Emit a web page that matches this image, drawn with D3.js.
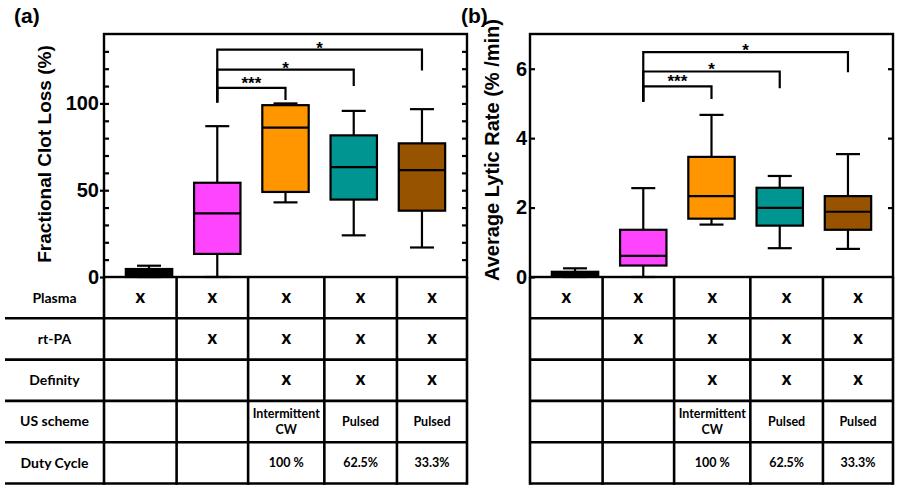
<!DOCTYPE html>
<html><head><meta charset="utf-8">
<script src="https://cdn.jsdelivr.net/npm/d3@7"></script>
<style>
body{margin:0;background:#fff;}
svg{display:block;}
</style></head>
<body><svg id="chart" width="898" height="489"></svg>
<script>
// ---------- DATA ----------
const groups = ["Plasma", "rt-PA", "rt-PA + Definity + IC", "rt-PA + Definity + Pulsed 62.5%", "rt-PA + Definity + Pulsed 33.3%"];
const groupColors = ["#000000", "#ff44ff", "#ff9600", "#009591", "#975300"];

// Fractional Clot Loss (%)
const lossMin = [0, 0, 43, 24, 17];
const lossQ1  = [0, 13.3, 49, 44.6, 38.2];
const lossMed = [1.5, 36.7, 86.1, 63.3, 61.6];
const lossQ3  = [4.6, 54.3, 99, 81.6, 77];
const lossMax = [6.5, 86.9, 100, 95.7, 96.7];
const lossTicks = [0, 50, 100];

// Average Lytic Rate (%/min)
const rateMin = [0, 0, 1.51, 0.83, 0.81];
const rateQ1  = [0.01, 0.33, 1.68, 1.48, 1.36];
const rateMed = [0.07, 0.61, 2.33, 1.99, 1.88];
const rateQ3  = [0.15, 1.36, 3.46, 2.57, 2.33];
const rateMax = [0.25, 2.56, 4.67, 2.91, 3.54];
const rateTicks = [0, 2, 4, 6];

// significance brackets (from group 1 to groups 2,3,4)
const sigFrom = 1;
const sigTo = [2, 3, 4];
const sigLabels = ["***", "*", "*"];
const lossSigY = [109, 119.5, 131];
const lossSigEnd = [102, 110, 119];
const lossSigStart = 100.6;
const rateSigY = [5.49, 5.92, 6.48];
const rateSigEnd = [5.13, 5.44, 5.9];
const rateSigStart = 5.05;

// table
const rowLabels = ["Plasma", "rt-PA", "Definity", "US scheme", "Duty Cycle"];
const rowPlasma = ["x", "x", "x", "x", "x"];
const rowRtpa = ["", "x", "x", "x", "x"];
const rowDefinity = ["", "", "x", "x", "x"];
const rowScheme = ["", "", "Intermittent\nCW", "Pulsed", "Pulsed"];
const rowDuty = ["", "", "100 %", "62.5%", "33.3%"];
const tableRows = [rowPlasma, rowRtpa, rowDefinity, rowScheme, rowDuty];

// ---------- LAYOUT ----------
const svg = d3.select("#chart");
const plotTop = 34, plotBottom = 277, tableBottom = 483.5;
const colFrac = [0, 0.2, 0.397, 0.607, 0.807, 1];
const sansB = "'Liberation Sans', Arial, sans-serif";
const tabF = "Lato, 'Open Sans', sans-serif";

function panel(cfg) {
  const {left, right, yMax, mins, q1, med, q3, maxs, ticks, minorStep, rightTicks,
         title, titleX, sigY, sigEnd, sigStart, label, labelX, showRowLabels, tableLeft} = cfg;
  const g = svg.append("g");
  const x = d3.scalePoint().domain(groups).range([left, right]).padding(0.66);
  const y = d3.scaleLinear().domain([0, yMax]).range([plotBottom, plotTop]);
  const bw = x.step() * 0.68;
  const capW = 24;

  // boxes
  groups.forEach((gname, i) => {
    const cx = x(gname);
    const bg = g.append("g");
    bg.append("line").attr("x1", cx).attr("x2", cx).attr("y1", y(maxs[i])).attr("y2", y(mins[i]))
      .attr("stroke", "#000").attr("stroke-width", 2.2);
    [mins[i], maxs[i]].forEach(v => {
      bg.append("line").attr("x1", cx - capW / 2).attr("x2", cx + capW / 2).attr("y1", y(v)).attr("y2", y(v))
        .attr("stroke", "#000").attr("stroke-width", 2.2);
    });
    bg.append("rect").attr("x", cx - bw / 2).attr("width", bw)
      .attr("y", y(q3[i])).attr("height", Math.max(0, y(q1[i]) - y(q3[i])))
      .attr("fill", groupColors[i]).attr("stroke", "#000").attr("stroke-width", 2.2);
    bg.append("line").attr("x1", cx - bw / 2).attr("x2", cx + bw / 2).attr("y1", y(med[i])).attr("y2", y(med[i]))
      .attr("stroke", "#000").attr("stroke-width", 2.2);
  });

  // significance brackets
  const x0 = x(groups[sigFrom]);
  sigTo.forEach((t, k) => {
    const x1 = x(groups[t]);
    g.append("path")
      .attr("d", `M${x0},${y(sigStart)}V${y(sigY[k])}H${x1}V${y(sigEnd[k])}`)
      .attr("fill", "none").attr("stroke", "#000").attr("stroke-width", 2.2);
    g.append("text").attr("x", (x0 + x1) / 2).attr("y", y(sigY[k]) + (sigLabels[k] === "***" ? 1 : 4))
      .attr("text-anchor", "middle").attr("font-family", sansB).attr("font-size", 17).attr("font-weight", "bold")
      .text(sigLabels[k]);
  });

  // axes
  const fmt = d3.format("d");
  const axL = g.append("g").attr("transform", `translate(${left},0)`)
    .call(cfg.outTick ? d3.axisLeft(y).tickValues(ticks).tickFormat(fmt).tickSizeInner(4).tickSizeOuter(0).tickPadding(1)
                      : d3.axisLeft(y).tickValues(ticks).tickFormat(fmt).tickSizeInner(-5).tickSizeOuter(0).tickPadding(3));
  axL.select(".domain").remove();
  axL.selectAll("line").attr("stroke-width", 2.2);
  axL.selectAll("text").attr("font-family", sansB).attr("font-size", 20).attr("font-weight", "bold").attr("fill", "#000");
  if (minorStep) {
    const minor = d3.range(minorStep, yMax, minorStep);
    const axM = g.append("g").attr("transform", `translate(${left},0)`)
      .call(d3.axisLeft(y).tickValues(minor).tickSizeInner(-5).tickSizeOuter(0).tickFormat(""));
    axM.select(".domain").remove();
    axM.selectAll("line").attr("stroke-width", 2.2);
  }
  const axR = g.append("g").attr("transform", `translate(${right},0)`)
    .call(d3.axisRight(y).tickValues(rightTicks).tickSizeInner(-5).tickSizeOuter(0).tickFormat(""));
  axR.select(".domain").remove();
  axR.selectAll("line").attr("stroke-width", 2.2);

  // frame
  g.append("rect").attr("x", left).attr("y", plotTop).attr("width", right - left).attr("height", plotBottom - plotTop)
    .attr("fill", "none").attr("stroke", "#000").attr("stroke-width", 2.4);

  // y title
  g.append("text").attr("transform", `translate(${titleX},${cfg.titleY}) rotate(-90)`)
    .attr("text-anchor", "middle").attr("font-family", sansB).attr("font-size", cfg.titleSize).attr("font-weight", "bold")
    .text(title);

  // panel label
  svg.append("text").attr("x", labelX).attr("y", 23).attr("font-family", sansB).attr("font-size", 21)
    .attr("font-weight", "bold").text(label);

  // table
  const rowH = (tableBottom - plotBottom) / rowLabels.length;
  const colX = colFrac.map(f => left + f * (right - left));
  const tg = svg.append("g");
  const lw = 2.6;
  for (let r = 1; r <= rowLabels.length; r++) {
    const yy = plotBottom + r * rowH;
    tg.append("line").attr("x1", tableLeft).attr("x2", right).attr("y1", yy).attr("y2", yy)
      .attr("stroke", "#000").attr("stroke-width", lw);
  }
  colX.forEach(cx => {
    tg.append("line").attr("x1", cx).attr("x2", cx).attr("y1", plotBottom).attr("y2", tableBottom + lw / 2)
      .attr("stroke", "#000").attr("stroke-width", lw);
  });
  tableRows.forEach((row, r) => {
    const cy = plotBottom + (r + 0.5) * rowH;
    if (showRowLabels) {
      tg.append("text").attr("x", (tableLeft + left) / 2).attr("y", cy).attr("dy", "0.35em")
        .attr("text-anchor", "middle").attr("font-family", tabF).attr("font-size", 14).attr("font-weight", "bold")
        .text(rowLabels[r]);
    }
    row.forEach((txt, c) => {
      if (!txt) return;
      const cx = (colX[c] + colX[c + 1]) / 2;
      const lines = txt.split("\n");
      const isX = txt === "x";
      const t = tg.append("text").attr("text-anchor", "middle").attr("font-family", tabF)
        .attr("font-weight", isX ? 900 : "bold").attr("font-size", isX ? 18 : 12.5);
      lines.forEach((ln, j) => {
        t.append("tspan").attr("x", cx).attr("y", cy + (j - (lines.length - 1) / 2) * 15.5)
          .attr("dy", isX ? "0.28em" : "0.36em").text(ln);
      });
    });
  });
}

panel({left: 104, right: 467, yMax: 140, mins: lossMin, q1: lossQ1, med: lossMed, q3: lossQ3, maxs: lossMax,
  ticks: lossTicks, minorStep: 10, rightTicks: d3.range(10, 140, 10), outTick: true,
  title: "Fractional Clot Loss (%)", titleX: 51, titleY: 154, titleSize: 19, sigY: lossSigY, sigEnd: lossSigEnd, sigStart: lossSigStart,
  label: "(a)", labelX: 14, showRowLabels: true, tableLeft: 5});

panel({left: 530, right: 893, yMax: 7, mins: rateMin, q1: rateQ1, med: rateMed, q3: rateQ3, maxs: rateMax,
  ticks: rateTicks, minorStep: 0, rightTicks: [2, 4, 6], outTick: false,
  title: "Average Lytic Rate (% /min)", titleX: 499, titleY: 150, titleSize: 20, sigY: rateSigY, sigEnd: rateSigEnd, sigStart: rateSigStart,
  label: "(b)", labelX: 461, showRowLabels: false, tableLeft: 530});
</script></body></html>
